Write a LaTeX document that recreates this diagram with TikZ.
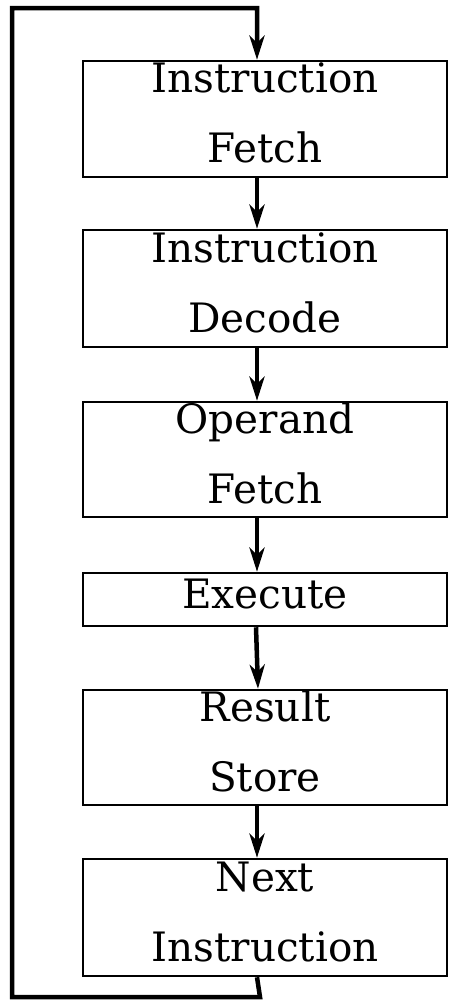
\documentclass[tikz,border=0pt]{standalone}
\usepackage{fontspec}
\setmainfont{DejaVu Serif}
\usetikzlibrary{arrows.meta}
\newcommand{\lowstrut}{\rule[-12pt]{0pt}{12pt}}
\begin{document}
\begin{tikzpicture}[x=1pt,y=1pt,
  stagebox/.style={draw, line width=2.5pt, minimum width=364pt, inner sep=0pt,
    align=center, font=\fontsize{40.5}{70}\selectfont},
  flow/.style={line width=4.5pt, -{Stealth[length=24pt,width=15pt,inset=7pt]}},
  loopline/.style={line width=4.5pt, line join=miter, -{Stealth[length=24pt,width=15pt,inset=7pt]}}]
\useasboundingbox (0,0) rectangle (449,-1001);
\node[stagebox, minimum height=116pt] (b1) at (265,-119)   {Instruction\\Fetch\lowstrut};
\node[stagebox, minimum height=117pt] (b2) at (265,-288.5) {Instruction\\Decode\lowstrut};
\node[stagebox, minimum height=115pt] (b3) at (265,-459.5) {Operand\\Fetch\lowstrut};
\node[stagebox, minimum height=53pt]  (b4) at (265,-599.5) {Execute\lowstrut};
\node[stagebox, minimum height=115pt] (b5) at (265,-747.5) {Result\\Store\lowstrut};
\node[stagebox, minimum height=117pt] (b6) at (265,-917.5) {Next\\Instruction\lowstrut};
\draw[flow] ([xshift=-8pt]b1.south) -- ([xshift=-8pt]b2.north);
\draw[flow] ([xshift=-8pt]b2.south) -- ([xshift=-8pt]b3.north);
\draw[flow] ([xshift=-8pt]b3.south) -- ([xshift=-8pt]b4.north);
\draw[flow] ([xshift=-9pt]b4.south) -- ([xshift=-7pt]b5.north);
\draw[flow] ([xshift=-8pt]b5.south) -- ([xshift=-8pt]b6.north);
\coordinate (br) at (260,-997);
\coordinate (bl) at (12,-997);
\coordinate (tl) at (12,-8);
\coordinate (tr) at (257,-8);
\draw[loopline] ([xshift=-8pt]b6.south) -- (br) -- (bl) -- (tl) -- (tr) -- ([xshift=-8pt]b1.north);
\end{tikzpicture}
\end{document}
